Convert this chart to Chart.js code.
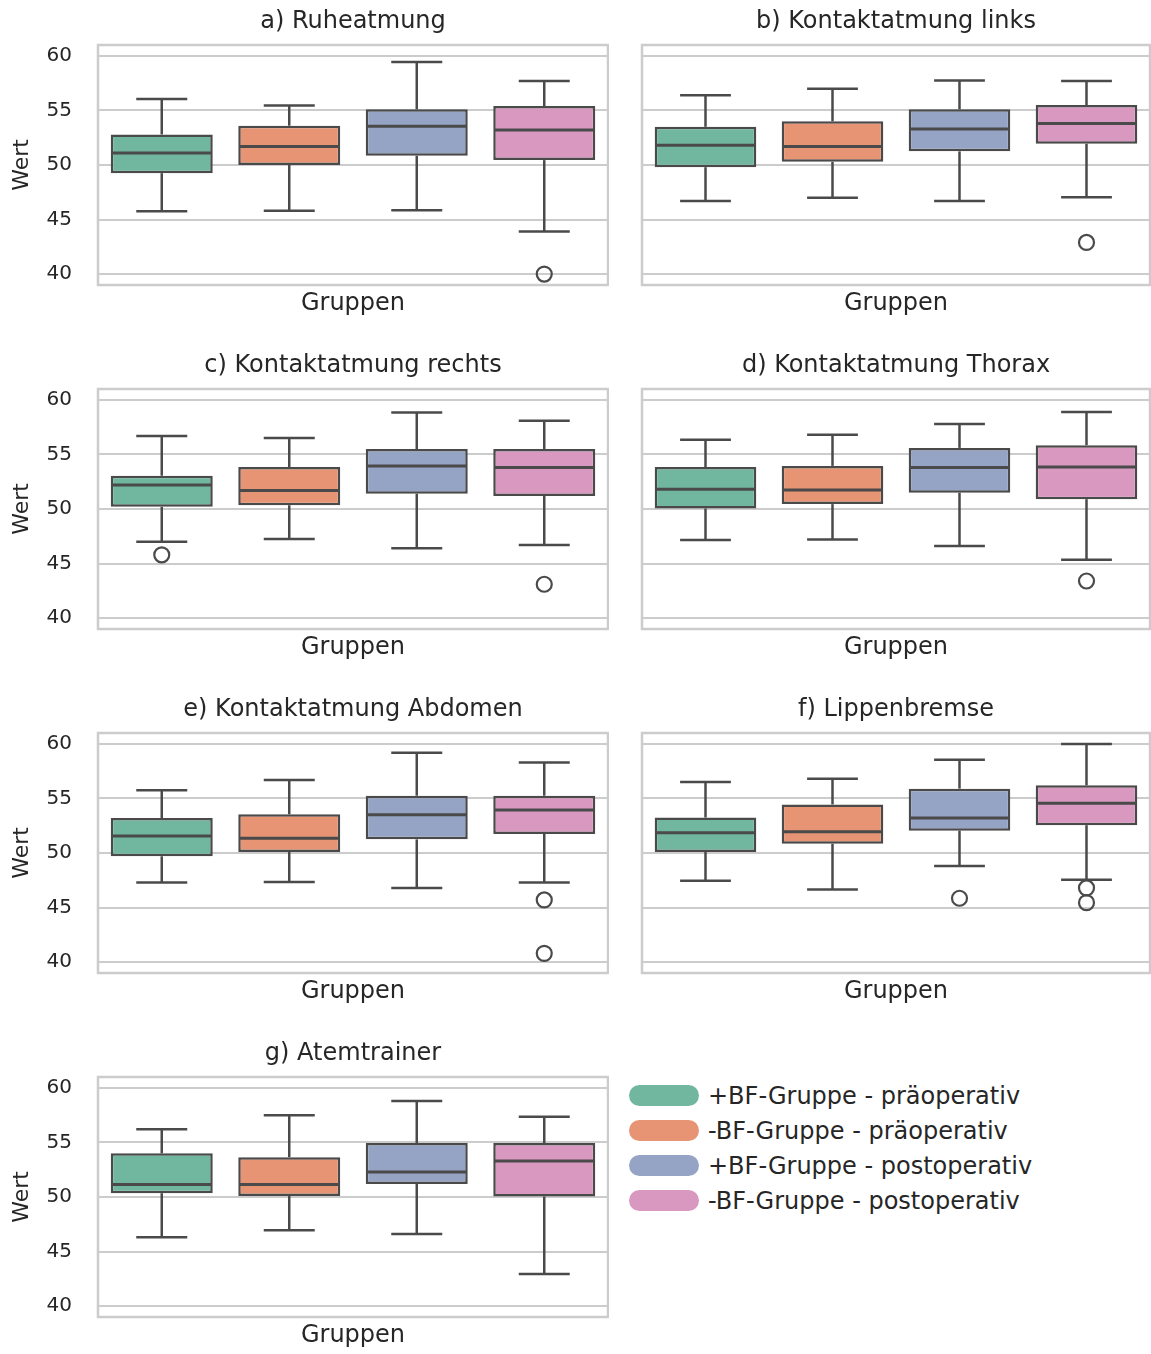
<!DOCTYPE html>
<html>
<head>
<meta charset="utf-8">
<script src="https://cdn.jsdelivr.net/npm/chart.js@4.4.1/dist/chart.umd.min.js"></script>
<style>
  html, body { margin: 0; padding: 0; background: #ffffff; overflow: hidden; width: 1151px; height: 1354px; }
  canvas { position: absolute; }
  #legend { position: absolute; left: 629px; top: 1078px; font-family: 'DejaVu Sans', sans-serif; font-size: 24px; color: #262626; }
  #legend .row { height: 35px; display: flex; align-items: center; white-space: nowrap; }
  #legend .sw { width: 70px; height: 21px; border-radius: 10.5px; margin-right: 9px; flex: none; }
</style>
</head>
<body>
<div id="legend"></div>
<script>
// Panels (one box plot per breathing exercise) and the four groups compared in each
const panelTitles = [
  'a) Ruheatmung',
  'b) Kontaktatmung links',
  'c) Kontaktatmung rechts',
  'd) Kontaktatmung Thorax',
  'e) Kontaktatmung Abdomen',
  'f) Lippenbremse',
  'g) Atemtrainer'
];
const groups = [
  '+BF-Gruppe - präoperativ',
  '-BF-Gruppe - präoperativ',
  '+BF-Gruppe - postoperativ',
  '-BF-Gruppe - postoperativ'
];
const yTicks = [40, 45, 50, 55, 60];

// Box statistics per panel (rows) and group (columns)
const whiskerLow = [
  [45.75, 45.8, 45.85, 43.9],
  [46.7, 47.0, 46.7, 47.05],
  [47.0, 47.25, 46.4, 46.7],
  [47.15, 47.2, 46.6, 45.35],
  [47.3, 47.35, 46.8, 47.3],
  [47.45, 46.65, 48.8, 47.55],
  [46.3, 46.95, 46.6, 42.95]
];
const q1 = [
  [49.25, 50.0, 50.85, 50.45],
  [49.8, 50.3, 51.25, 51.95],
  [50.2, 50.35, 51.4, 51.2],
  [50.05, 50.45, 51.5, 50.9],
  [49.7, 50.1, 51.25, 51.75],
  [50.1, 50.85, 52.05, 52.55],
  [50.35, 50.1, 51.2, 50.05]
];
const medians = [
  [51.1, 51.7, 53.55, 53.2],
  [51.8, 51.7, 53.3, 53.8],
  [52.2, 51.7, 53.95, 53.8],
  [51.8, 51.75, 53.8, 53.85],
  [51.55, 51.35, 53.5, 53.95],
  [51.85, 51.95, 53.2, 54.55],
  [51.15, 51.15, 52.3, 53.3]
];
const q3 = [
  [52.8, 53.6, 55.1, 55.4],
  [53.5, 54.0, 55.1, 55.5],
  [53.05, 53.85, 55.5, 55.5],
  [53.85, 53.95, 55.6, 55.85],
  [53.2, 53.55, 55.25, 55.25],
  [53.25, 54.45, 55.9, 56.2],
  [54.0, 53.65, 54.95, 54.95]
];
const whiskerHigh = [
  [56.05, 55.45, 59.45, 57.7],
  [56.4, 57.0, 57.75, 57.7],
  [56.7, 56.5, 58.85, 58.1],
  [56.35, 56.8, 57.8, 58.9],
  [55.75, 56.7, 59.2, 58.3],
  [56.5, 56.8, 58.55, 60.0],
  [56.2, 57.5, 58.8, 57.35]
];
const outliers = [
  [[], [], [], [40.0]],
  [[], [], [], [42.9]],
  [[45.8], [], [], [43.1]],
  [[], [], [], [43.4]],
  [[], [], [], [45.7, 40.8]],
  [[], [], [45.85], [46.8, 45.45]],
  [[], [], [], []]
];

const boxColors = ['#71b7a0', '#e69474', '#95a3c4', '#d898c0'];
const lineColor = '#4a4a4a';
const gridColor = '#cccccc';
const textColor = '#262626';
const fontFamily = "'DejaVu Sans', sans-serif";

// Whiskers, caps, medians, outlier rings and the light frame around each plot area
const boxStats = {
  id: 'boxStats',
  beforeDatasetsDraw(chart) {
    const a = chart.chartArea;
    const ctx = chart.ctx;
    ctx.save();
    ctx.strokeStyle = gridColor;
    ctx.lineWidth = 2.5;
    ctx.strokeRect(a.left, a.top, a.right - a.left, a.bottom - a.top);
    ctx.restore();
  },
  afterDatasetsDraw(chart, args, opts) {
    const p = opts.panel;
    const xs = chart.scales.x, ys = chart.scales.y;
    const meta = chart.getDatasetMeta(0);
    const ctx = chart.ctx;
    const seg = (x1, y1, x2, y2) => { ctx.beginPath(); ctx.moveTo(x1, y1); ctx.lineTo(x2, y2); ctx.stroke(); };
    ctx.save();
    ctx.strokeStyle = lineColor;
    groups.forEach((g, i) => {
      const cx = xs.getPixelForValue(i);
      const w = meta.data[i].width;
      const cap = w / 4;
      const yLo = ys.getPixelForValue(whiskerLow[p][i]);
      const yQ1 = ys.getPixelForValue(q1[p][i]);
      const yMed = ys.getPixelForValue(medians[p][i]);
      const yQ3 = ys.getPixelForValue(q3[p][i]);
      const yHi = ys.getPixelForValue(whiskerHigh[p][i]);
      ctx.lineWidth = 2.5;
      seg(cx, yQ1, cx, yLo);
      seg(cx - cap, yLo, cx + cap, yLo);
      seg(cx, yQ3, cx, yHi);
      seg(cx - cap, yHi, cx + cap, yHi);
      ctx.lineWidth = 3;
      seg(cx - w / 2 + 1, yMed, cx + w / 2 - 1, yMed);
      ctx.lineWidth = 2.2;
      outliers[p][i].forEach(v => {
        ctx.beginPath();
        ctx.arc(cx, ys.getPixelForValue(v), 7.5, 0, Math.PI * 2);
        ctx.stroke();
      });
    });
    ctx.restore();
  }
};

panelTitles.forEach((title, p) => {
  const col = p % 2;
  const row = Math.floor(p / 2);
  const canvas = document.createElement('canvas');
  const w = col === 0 ? 609 : 607;
  canvas.width = w;
  canvas.height = 330;
  canvas.style.left = (col === 0 ? 0 : 544) + 'px';
  canvas.style.top = (row * 344) + 'px';
  canvas.style.width = w + 'px';
  canvas.style.height = '330px';
  document.body.appendChild(canvas);

  new Chart(canvas, {
    type: 'bar',
    data: {
      labels: groups,
      datasets: [
        {
          data: groups.map((g, i) => [q1[p][i], q3[p][i]]),
          backgroundColor: boxColors,
          borderColor: lineColor,
          borderWidth: 2.5,
          borderSkipped: false,
          categoryPercentage: 0.8,
          barPercentage: 1.0
        }
      ]
    },
    options: {
      responsive: false,
      animation: false,
      devicePixelRatio: 1,
      events: [],
      layout: { padding: { left: 0, right: 1, top: 0, bottom: 0 } },
      plugins: {
        legend: { display: false },
        tooltip: { enabled: false },
        title: {
          display: true,
          text: title,
          fullSize: false,
          color: textColor,
          font: { family: fontFamily, size: 24, weight: 'normal' },
          padding: { top: 7, bottom: 9.2 }
        },
        boxStats: { panel: p }
      },
      scales: {
        x: {
          type: 'category',
          offset: true,
          grid: { display: false },
          border: { display: false },
          ticks: { display: false },
          title: {
            display: true,
            text: 'Gruppen',
            color: textColor,
            font: { family: fontFamily, size: 24 },
            padding: { top: 0, bottom: 11.6 }
          },
          afterFit: s => { s.height = 45; }
        },
        y: {
          min: 39,
          max: 61,
          afterBuildTicks: s => { s.ticks = yTicks.map(v => ({ value: v })); },
          afterFit: s => { s.width = 98; },
          grid: { color: gridColor, lineWidth: 2, drawTicks: false },
          border: { display: false },
          ticks: {
            display: col === 0,
            padding: 26,
            color: textColor,
            font: { family: fontFamily, size: 20 }
          },
          title: {
            display: col === 0,
            text: 'Wert',
            color: textColor,
            font: { family: fontFamily, size: 22 },
            padding: { top: 8.8, bottom: 0 }
          }
        }
      }
    },
    plugins: [boxStats]
  });
});

// Legend: one rounded swatch per group
const legend = document.getElementById('legend');
groups.forEach((g, i) => {
  const row = document.createElement('div');
  row.className = 'row';
  const sw = document.createElement('div');
  sw.className = 'sw';
  sw.style.background = boxColors[i];
  const label = document.createElement('span');
  label.textContent = g;
  row.appendChild(sw);
  row.appendChild(label);
  legend.appendChild(row);
});
</script>
</body>
</html>
